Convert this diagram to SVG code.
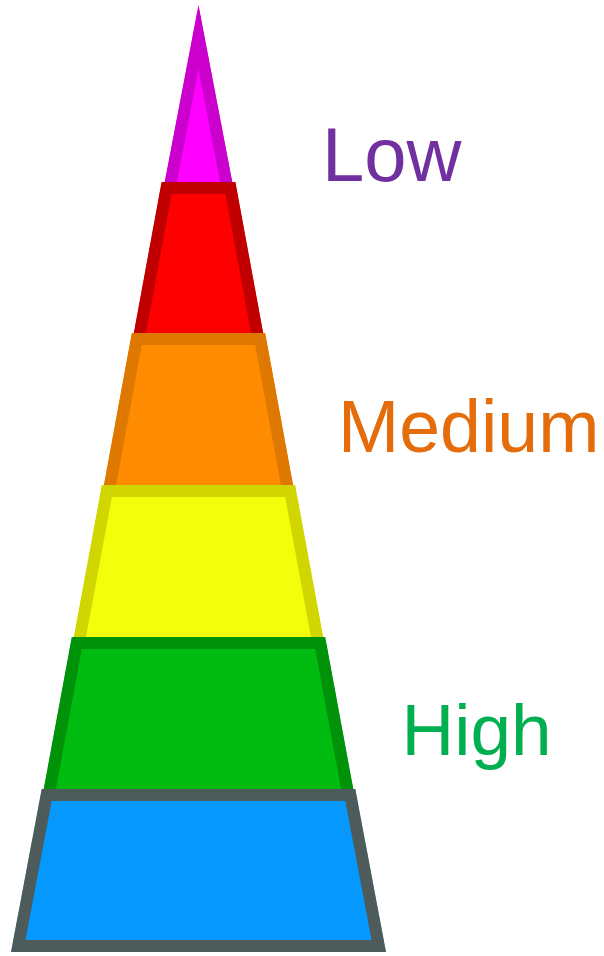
<svg xmlns="http://www.w3.org/2000/svg" width="604" height="956" viewBox="0 0 604 956">
<style>
.lbl{font-family:"Liberation Sans",Arial,sans-serif;}
.ly{stroke-width:24;stroke-linejoin:miter;}
</style>
<defs>
<clipPath id="c1"><polygon points="198.5,5 234.6,194 162.4,194"/></clipPath>
<clipPath id="c2"><polygon points="235.4,182 265.4,345 131.6,345 161.6,182"/></clipPath>
<clipPath id="c3"><polygon points="265.2,333 295.3,497 101.7,497 131.8,333"/></clipPath>
<clipPath id="c4"><polygon points="295.1,485 325.4,649 71.6,649 101.9,485"/></clipPath>
<clipPath id="c5"><polygon points="325.2,637 355.5,801 41.5,801 71.8,637"/></clipPath>
<clipPath id="c6"><polygon points="355.3,789 386,952 11,952 41.7,789"/></clipPath>
</defs>
<rect width="604" height="956" fill="#ffffff"/>
<g id="layer-magenta"><polygon class="ly" clip-path="url(#c1)" points="198.5,5 234.6,194 162.4,194" fill="#FF00FF" stroke="#CC00CC"/></g>
<g id="layer-red"><polygon class="ly" clip-path="url(#c2)" points="235.4,182 265.4,345 131.6,345 161.6,182" fill="#FF0000" stroke="#C00000"/></g>
<g id="layer-orange"><polygon class="ly" clip-path="url(#c3)" points="265.2,333 295.3,497 101.7,497 131.8,333" fill="#FF8C00" stroke="#DE7800"/></g>
<g id="layer-yellow"><polygon class="ly" clip-path="url(#c4)" points="295.1,485 325.4,649 71.6,649 101.9,485" fill="#F2FF0A" stroke="#D1D600"/></g>
<g id="layer-green"><polygon class="ly" clip-path="url(#c5)" points="325.2,637 355.5,801 41.5,801 71.8,637" fill="#00BB10" stroke="#009208"/></g>
<g id="layer-blue"><polygon class="ly" clip-path="url(#c6)" points="355.3,789 386,952 11,952 41.7,789" fill="#0599FF" stroke="#4D5B5B"/></g>
<g id="labels">
<text class="lbl" x="322" y="181" font-size="76" fill="#7030A0">Low</text>
<text class="lbl" x="338" y="452" font-size="73.5" fill="#E46C0A">Medium</text>
<text class="lbl" x="401.5" y="754.5" font-size="73" fill="#00B050">High</text>
</g>
<g id="connectors"></g>
</svg>
